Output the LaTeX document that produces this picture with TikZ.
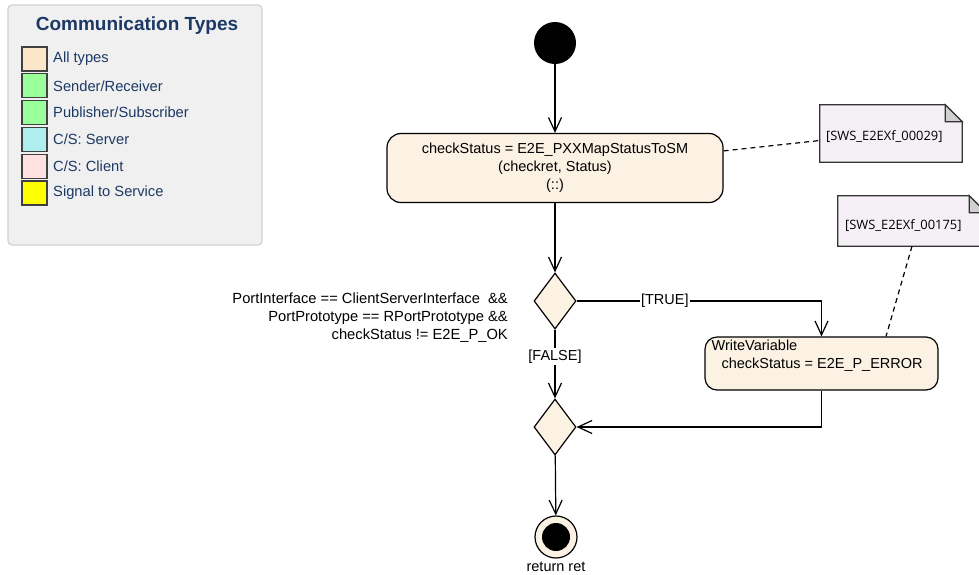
\documentclass[tikz,border=0pt]{standalone}
\usepackage{fontspec}
\setmainfont{Liberation Sans}
\newfontfamily\notefont{Open Sans}
\usetikzlibrary{arrows.meta,calc,shapes.geometric}
\definecolor{ActClr}{RGB}{252,242,228}
\definecolor{NoteClr}{RGB}{245,240,245}
\definecolor{FoldClr}{RGB}{208,208,208}
\definecolor{LegClr}{RGB}{240,240,240}
\definecolor{LegLine}{RGB}{208,208,208}
\definecolor{LegTxt}{RGB}{28,56,100}
\definecolor{AllClr}{RGB}{252,230,201}
\definecolor{SRClr}{RGB}{153,255,153}
\definecolor{SrvClr}{RGB}{175,238,238}
\definecolor{CliClr}{RGB}{255,225,225}
\definecolor{SigClr}{RGB}{255,255,0}

\begin{document}
\begin{tikzpicture}[x=1pt,y=-1pt,
  every node/.style={font=\fontsize{14.5}{18}\selectfont,inner sep=0pt},
  flow/.style={line width=1.2pt,-{Straight Barb[length=14pt,width=13pt]}},
  act/.style={draw,line width=1.2pt,rounded corners=14pt,fill=ActClr,align=center},
  decide/.style={draw,diamond,line width=1.2pt,fill=ActClr,minimum width=42pt,minimum height=56pt},
  notebox/.style={draw=none,minimum width=#1,minimum height=57pt},
  noteline/.style={draw=black!80,line width=1.2pt},
  notetxt/.style={font=\notefont\fontsize{12.9}{14}\selectfont},
  link/.style={line width=1.2pt,dash pattern=on 5pt off 4pt}]
\useasboundingbox (0,0) rectangle (979,574);
\clip (0,0) rectangle (979,574);

% legend
\draw[LegLine,line width=1.2pt,fill=LegClr,rounded corners=4pt] (8,5) rectangle (262,245);
\node[font=\bfseries\fontsize{19}{20}\selectfont,text=LegTxt] (legtitle) at (137,26) {Communication Types};
\foreach \clr/\txt [count=\i] in {AllClr/All types,SRClr/{Sender/Receiver},SRClr/{Publisher/Subscriber},
    SrvClr/{C/S: Server},CliClr/{C/S: Client},SigClr/Signal to Service}{
  \draw[black!75,line width=1.2pt,fill=\clr] (22,47+26.8*\i-26.8) rectangle (47,71+26.8*\i-26.8);
  \node[anchor=west,text=LegTxt,font=\fontsize{14.7}{18}\selectfont] (leg\i) at (53,59+26.8*\i-26.8) {\txt};
}

% activity
\node[circle,fill=black,minimum size=42pt] (start) at (555,43) {};
\node[act,minimum width=336pt,minimum height=69pt] (chk) at (555,168)
  {checkStatus = E2E\_PXXMapStatusToSM\\(checkret, Status)\\(::)};
\node[decide] (dec) at (555,301) {};
\node[decide] (merge) at (555,427) {};
\node[act,rounded corners=12pt,minimum width=233pt,minimum height=53pt] (wrv) at (821.5,363.5) {};
\node[anchor=west] (wrvname) at ($(wrv.north west)+(7,9)$) {WriteVariable};
\node[anchor=west] (wrvset) at ($(wrv.west)+(17,1.5)$) {checkStatus = E2E\_P\_ERROR};
\node[circle,draw,line width=1.2pt,fill=ActClr,minimum size=42pt] (stop) at (556,537) {};
\fill (stop.center) circle[radius=14pt];
\node (ret) at (556,567) {return ret};
\node[anchor=east,align=right,font=\fontsize{14.7}{18}\selectfont] (cond) at (508,318)
  {PortInterface == ClientServerInterface \ \&\&\\PortPrototype == RPortPrototype \&\&\\checkStatus != E2E\_P\_OK};

% notes
\node[notebox=142pt] (n29) at (891,133.5) {};
\node[notebox=148pt,minimum height=50pt] (n175) at (912,221) {};
\foreach \n in {n29,n175}{
  \draw[noteline,fill=NoteClr] (\n.north west) -- ($(\n.north east)+(-17,0)$) -- ($(\n.north east)+(0,17)$)
    -- (\n.south east) -- (\n.south west) -- cycle;
  \draw[noteline,fill=FoldClr] ($(\n.north east)+(-17,0)$) -- ($(\n.north east)+(-17,17)$)
    -- ($(\n.north east)+(0,17)$) -- cycle;
}
\node[notetxt,anchor=west] (t29) at ($(n29.west)+(6,3)$) {[SWS\_E2EXf\_00029]};
\node[notetxt,anchor=west] (t175) at ($(n175.west)+(7,5)$) {[SWS\_E2EXf\_00175]};

% connectors
\draw[flow] (start) -- (chk);
\draw[flow] (chk) -- (dec);
\draw[flow] (dec.east) -| node[pos=0.18,fill=white,inner xsep=1.5pt] {[TRUE]} (wrv.north);
\draw[flow] (dec.south) -- node[pos=0.39,fill=white,inner sep=2pt] {[FALSE]} (merge.north);
\draw[flow] (wrv.south) |- (merge.east);
\draw[flow] (merge) -- (stop);
\draw[link] ($(chk.north east)+(0,18)$) -- ($(n29.west)+(0,7)$);
\draw[link] (n175.south) -- ($(wrv.north)+(64.5,0)$);

\end{tikzpicture}
\end{document}
